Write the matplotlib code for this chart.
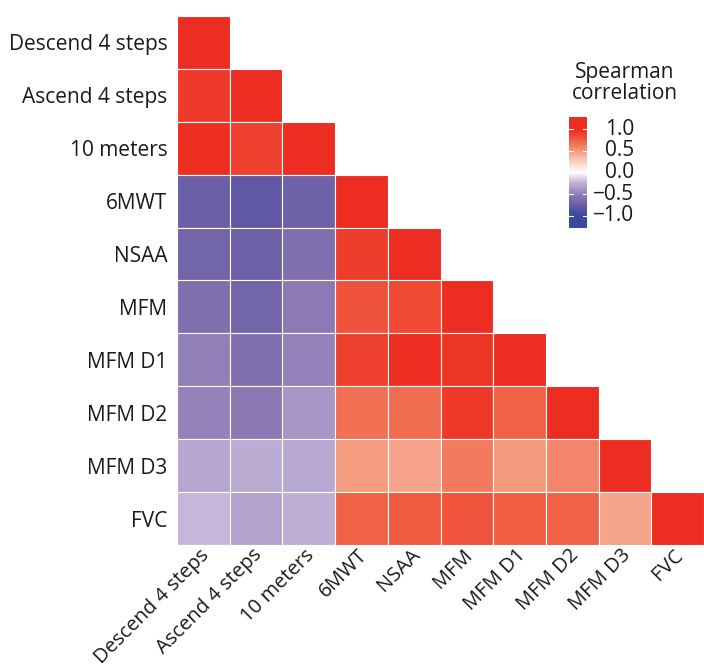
import numpy as np
import matplotlib
matplotlib.use("Agg")
import matplotlib.pyplot as plt
from matplotlib.colors import LinearSegmentedColormap, Normalize
from matplotlib.transforms import ScaledTranslation

plt.rcParams['font.family'] = ['Open Sans', 'DejaVu Sans']

labels = ["Descend 4 steps", "Ascend 4 steps", "10 meters", "6MWT", "NSAA",
          "MFM", "MFM D1", "MFM D2", "MFM D3", "FVC"]

# lower-triangular Spearman correlations (row i, columns 0..i)
r_descend = [1.0]
r_ascend = [0.93, 1.0]
r_10m = [0.99, 0.90, 1.0]
r_6mwt = [-0.75, -0.80, -0.72, 1.0]
r_nsaa = [-0.70, -0.74, -0.62, 0.92, 1.0]
r_mfm = [-0.62, -0.70, -0.55, 0.82, 0.86, 1.0]
r_mfmd1 = [-0.52, -0.62, -0.50, 0.90, 1.0, 0.96, 1.0]
r_mfmd2 = [-0.50, -0.56, -0.38, 0.68, 0.69, 0.94, 0.74, 1.0]
r_mfmd3 = [-0.30, -0.28, -0.29, 0.49, 0.46, 0.64, 0.50, 0.58, 1.0]
r_fvc = [-0.22, -0.32, -0.26, 0.74, 0.77, 0.81, 0.76, 0.74, 0.45, 1.0]
rows = [r_descend, r_ascend, r_10m, r_6mwt, r_nsaa, r_mfm, r_mfmd1, r_mfmd2, r_mfmd3, r_fvc]

cbar_ticks = [1.0, 0.5, 0.0, -0.5, -1.0]

# diverging colour scale (blue - white - red)
cmap = LinearSegmentedColormap.from_list("spearman", [
    (0.00, "#3b4a9f"),
    (0.10, "#6258a3"),
    (0.20, "#8472af"),
    (0.30, "#a592c4"),
    (0.40, "#cbbbdc"),
    (0.50, "#ffffff"),
    (0.625, "#fad0c2"),
    (0.75, "#f59a7e"),
    (0.875, "#f06043"),
    (1.00, "#ed2d21"),
])
norm = Normalize(-1, 1)

W, H = 704, 669
fig = plt.figure(figsize=(W / 100, H / 100), dpi=100)
ax = fig.add_axes([177 / W, 1 - 545 / H, (704 - 177) / W, (545 - 16) / H])

n = len(labels)
for i, row in enumerate(rows):
    for j, v in enumerate(row):
        ax.add_patch(plt.Rectangle((j, n - 1 - i), 1, 1, facecolor=cmap(norm(v)),
                                   edgecolor='white', linewidth=0.8))
ax.set_xlim(0, n)
ax.set_ylim(0, n)
for s in ax.spines.values():
    s.set_visible(False)
ax.set_xticks(np.arange(n) + 0.5)
ax.set_yticks(np.arange(n) + 0.5)
ax.set_xticklabels(labels, rotation=45, ha='right', va='top', rotation_mode='anchor', fontsize=14.5, color='#1a1a1a')
ax.set_yticklabels(labels[::-1], fontsize=15, color='#1a1a1a')
ax.tick_params(axis='y', length=0, pad=7)
ax.tick_params(axis='x', length=0, pad=3)
shift = ScaledTranslation(-4 / 100, 4 / 100, fig.dpi_scale_trans)
for lbl in ax.get_xticklabels():
    lbl.set_transform(lbl.get_transform() + shift)

# colour bar
cax = fig.add_axes([569 / W, 1 - 228 / H, 18 / W, 111 / H])
ext = 1.29
grad = np.linspace(-ext, ext, 300).reshape(-1, 1)
cax.imshow(grad, cmap=cmap, norm=norm, aspect='auto', origin='lower', extent=(0, 1, -ext, ext))
cax.set_xlim(0, 1)
cax.set_ylim(-ext, ext)
for t in cbar_ticks:
    cax.plot([0, 0.2], [t, t], color='white', lw=0.8)
    cax.plot([0.8, 1], [t, t], color='white', lw=0.8)
cax.set_xticks([])
cax.set_yticks([])
for s in cax.spines.values():
    s.set_visible(False)
for t in cbar_ticks:
    cax.text((634 - 569) / 18, t, f"{t:.1f}".replace('-', '\u2212'), ha='right', va='center',
             fontsize=15, color='#1a1a1a', transform=cax.transData, clip_on=False)
fig.text(625 / W, 1 - 83 / H, "Spearman\ncorrelation", ha='center', va='center', fontsize=15,
         color='#1a1a1a', linespacing=1.0)

fig.savefig("out.png", dpi=100)
